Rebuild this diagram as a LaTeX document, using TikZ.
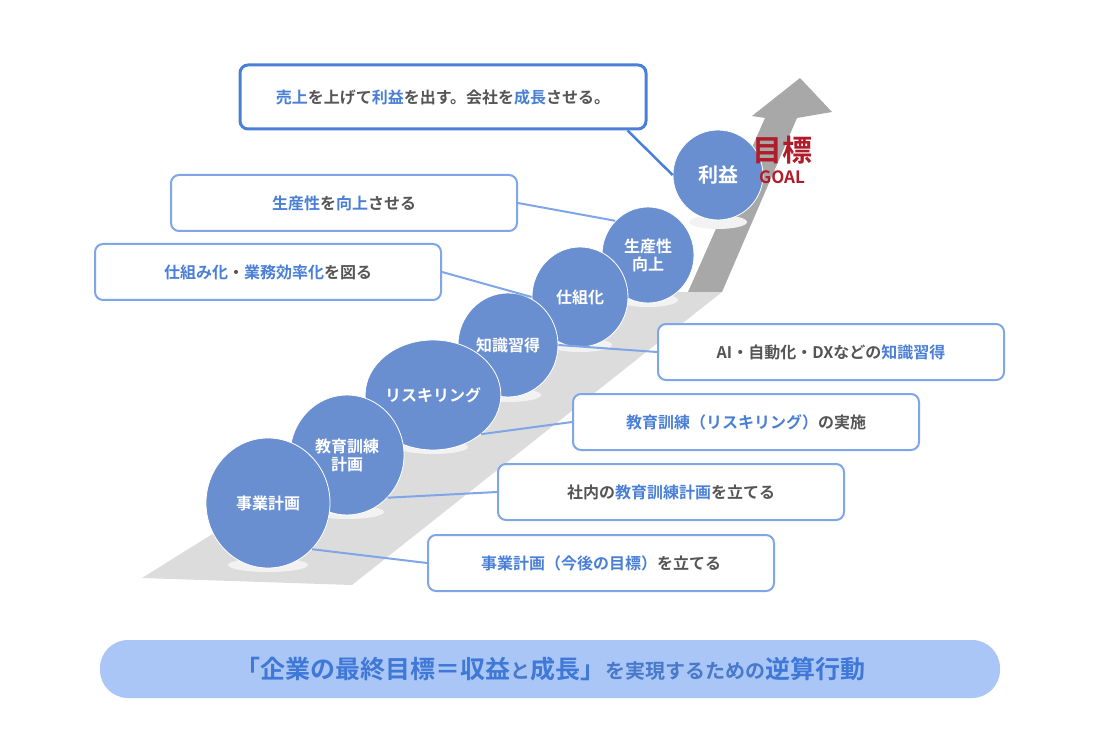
\documentclass[tikz,border=0pt]{standalone}
\usepackage{fontspec}
\setmainfont{Noto Sans CJK JP}
\newfontfamily\jpb{Noto Sans CJK JP}[BoldFont={* Bold}]
\usetikzlibrary{shapes.geometric}
\definecolor{cfill}{HTML}{6A8FD0}
\definecolor{bdr}{HTML}{7FA6E6}
\definecolor{bdrd}{HTML}{4A7FD8}
\definecolor{tb}{HTML}{4A7FD6}
\definecolor{tg}{HTML}{555555}
\definecolor{road}{HTML}{DCDCDC}
\definecolor{arr}{HTML}{A8A8A8}
\definecolor{goal}{HTML}{B01C2A}
\definecolor{band}{HTML}{A9C6F7}
\definecolor{bandt}{HTML}{3F78D6}
\newcommand{\B}[1]{\textcolor{tb}{#1}}
\begin{document}
\begin{tikzpicture}[x=1pt,y=-1pt,
  stepc/.style={ellipse,fill=cfill,draw=white,line width=0.8pt,text=white,font=\bfseries\fontsize{16}{18}\selectfont,align=center,inner sep=0pt},
  box/.style={draw=bdr,line width=2pt,rounded corners=8pt,fill=white,text=tg,font=\bfseries\fontsize{16}{18}\selectfont,minimum height=56pt,minimum width=346pt},
  con/.style={draw=bdr,line width=2pt}]
\useasboundingbox (0,0) rectangle (1100,743);
\jpb
% road and arrow
\fill[road] (142,578) -- (352,585) -- (722,292) -- (600,292) -- cycle;
\fill[arr] (688,292) -- (722,292) -- (797,118) -- (832,112) -- (800,78) -- (752,116) -- (765,118) -- cycle;
% boxes
\node[box,draw=bdrd,line width=3pt,minimum width=406pt,minimum height=64pt] (b7) at (443,97) {\B{売上}を上げて\B{利益}を出す。会社を\B{成長}させる。};
\node[box] (b6) at (344,203) {\B{生産性}を\B{向上}させる};
\node[box] (b5) at (268,272) {\B{仕組み化}・\B{業務効率化}を図る};
\node[box] (b4) at (831,352) {AI・自動化・DXなどの\B{知識習得}};
\node[box] (b3) at (746,422) {\B{教育訓練（リスキリング）}の実施};
\node[box] (b2) at (671,492) {社内の\B{教育訓練計画}を立てる};
\node[box] (b1) at (601,563) {\B{事業計画（今後の目標）}を立てる};
% shadows
\foreach \x/\y/\w in {268/565/80,347/512/74,433/447/70,508/395/66,580/345/64,648/300/60,718/222/58}
  \fill[white!90!gray] (\x,\y) ellipse ({\w/2} and 7);
% circles
\node[stepc,minimum width=90pt,minimum height=90pt] (c7) at (718,175) {\fontsize{20}{22}\selectfont 利益};
\node[stepc,minimum width=92pt,minimum height=96pt] (c6) at (648,255) {生産性\\向上};
\node[stepc,minimum width=96pt,minimum height=100pt] (c5) at (580,297) {仕組化};
\node[stepc,minimum width=100pt,minimum height=104pt] (c4) at (508,345) {知識習得};
\node[stepc,minimum width=104pt,minimum height=110pt] (c3) at (433,395) {リスキリング};
\node[stepc,minimum width=114pt,minimum height=120pt] (c2) at (347,455) {教育訓練\\計画};
\node[stepc,minimum width=124pt,minimum height=130pt] (c1) at (268,503) {事業計画};
% goal label
\node[text=goal,font=\bfseries\fontsize{30}{30}\selectfont,inner sep=0pt] (g1) at (782,150) {目標};
\node[text=goal,font=\bfseries\fontsize{17}{17}\selectfont,inner sep=0pt] (g2) at (782,177) {GOAL};
% connectors
\draw[con,draw=bdrd,line width=2.5pt] (b7.south east) ++(-20,0) coordinate (k7) (k7) -- (c7.west);
\draw[con] (b6.east) -- (c6.north west);
\draw[con] (b5.east) -- (c5.west);
\draw[con] (b4.west) -- (c4.east);
\draw[con] (b3.west) -- (c3.south east);
\draw[con] (b2.west) -- (c2.south east);
\draw[con] (b1.west) -- (c1.south east);
% banner
\node[fill=band,rounded corners=28pt,minimum width=900pt,minimum height=58pt,font=\bfseries] (bn) at (550,669)
 {\textcolor{bandt}{\fontsize{25}{28}\selectfont 「企業の最終目標＝収益}\textcolor{bandt!85!gray}{\fontsize{20}{28}\selectfont と}\textcolor{bandt}{\fontsize{25}{28}\selectfont 成長」}\textcolor{bandt!85!gray}{\fontsize{20}{28}\selectfont を実現するための}\textcolor{bandt}{\fontsize{25}{28}\selectfont 逆算行動}};
\end{tikzpicture}
\end{document}
